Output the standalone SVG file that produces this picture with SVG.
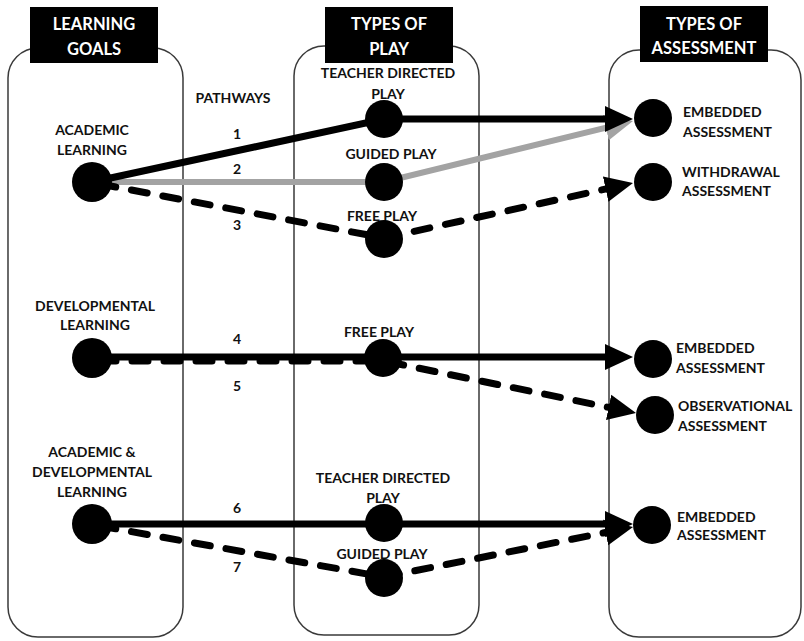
<svg xmlns="http://www.w3.org/2000/svg" width="804" height="641" viewBox="0 0 804 641">
  <style>
    .panel { fill: #ffffff; stroke: #3a3a3a; stroke-width: 1.5; }
    .hdr { fill: #000000; }
    .hdr-t { fill: #ffffff; font-family: Lato, "Liberation Sans", sans-serif; font-weight: bold; font-size: 16.5px; text-anchor: middle; }
    .lbl { fill: #111111; font-family: Lato, "Liberation Sans", sans-serif; font-weight: bold; font-size: 14px; }
    .mid { text-anchor: middle; }
    .node { fill: #000000; }
    .solid { fill: none; stroke: #000000; stroke-width: 7; }
    .dash { fill: none; stroke: #000000; stroke-width: 7; stroke-dasharray: 16 16; stroke-linecap: round; }
    .grey { fill: none; stroke: #a3a3a3; stroke-width: 6; }
  </style>
  <defs>
    <marker id="ah" markerUnits="userSpaceOnUse" markerWidth="28" markerHeight="28" viewBox="0 0 28 28" refX="10" refY="14" orient="auto">
      <path d="M0,1 L28,14 L0,27 z" fill="#000000"/>
    </marker>
    <marker id="ahg" markerUnits="userSpaceOnUse" markerWidth="28" markerHeight="28" viewBox="0 0 28 28" refX="10" refY="14" orient="auto">
      <path d="M0,1 L28,14 L0,27 z" fill="#a3a3a3"/>
    </marker>
  </defs>

  <rect width="804" height="641" fill="#ffffff"/>

  <!-- column panels -->
  <g id="col-goals">
    <rect class="panel" x="8" y="48" width="175" height="589" rx="30"/>
    <rect class="hdr" x="30" y="7" width="128" height="56"/>
    <text class="hdr-t" x="94" y="30">LEARNING</text>
    <text class="hdr-t" x="94" y="55">GOALS</text>
  </g>
  <g id="col-play">
    <rect class="panel" x="294" y="46" width="185" height="589" rx="30"/>
    <rect class="hdr" x="325" y="7" width="128" height="56"/>
    <text class="hdr-t" x="389" y="30">TYPES OF</text>
    <text class="hdr-t" x="389" y="55">PLAY</text>
  </g>
  <g id="col-assessment">
    <rect class="panel" x="609" y="50" width="192" height="587" rx="30"/>
    <rect class="hdr" x="640" y="6" width="128" height="56"/>
    <text class="hdr-t" x="704" y="30">TYPES OF</text>
    <text class="hdr-t" x="704" y="54">ASSESSMENT</text>
  </g>

  <text class="lbl mid" x="233" y="103">PATHWAYS</text>

  <!-- pathways -->
  <g id="connectors">
    <!-- 2: guided play -->
    <path class="grey" d="M92,182 L384,182 L615.5,125.3" marker-end="url(#ahg)"/>
    <!-- 1: teacher directed play -->
    <path class="solid" d="M92,182 L384,119 L615,119" marker-end="url(#ah)"/>
    <!-- 3: free play -->
    <path class="dash" d="M100,184 L384,238 L615.4,186.9" marker-end="url(#ah)"/>
    <!-- 5: free play to observational -->
    <path class="dash" d="M100,361 L384,361 L618.4,409.4" marker-end="url(#ah)"/>
    <!-- 4: free play to embedded -->
    <path class="solid" d="M92,357 L615,357" marker-end="url(#ah)"/>
    <!-- 7: guided play -->
    <path class="dash" d="M100,526 L384,577 L615.4,530.5" marker-end="url(#ah)"/>
    <!-- 6: teacher directed play -->
    <path class="solid" d="M92,524 L615,524" marker-end="url(#ah)"/>
  </g>

  <!-- pathway numbers -->
  <text class="lbl mid" x="237" y="139">1</text>
  <text class="lbl mid" x="237" y="174">2</text>
  <text class="lbl mid" x="237" y="230">3</text>
  <text class="lbl mid" x="237" y="344">4</text>
  <text class="lbl mid" x="237" y="391">5</text>
  <text class="lbl mid" x="237" y="513">6</text>
  <text class="lbl mid" x="237" y="572">7</text>

  <!-- learning goals -->
  <g id="goal-academic">
    <text class="lbl mid" x="92" y="135">ACADEMIC</text>
    <text class="lbl mid" x="92" y="155">LEARNING</text>
    <circle class="node" cx="92" cy="182" r="20"/>
  </g>
  <g id="goal-developmental">
    <text class="lbl mid" x="95" y="311">DEVELOPMENTAL</text>
    <text class="lbl mid" x="95" y="330">LEARNING</text>
    <circle class="node" cx="92" cy="358" r="20"/>
  </g>
  <g id="goal-both">
    <text class="lbl mid" x="92" y="457">ACADEMIC &amp;</text>
    <text class="lbl mid" x="92" y="477">DEVELOPMENTAL</text>
    <text class="lbl mid" x="92" y="497">LEARNING</text>
    <circle class="node" cx="92" cy="524" r="20"/>
  </g>

  <!-- types of play -->
  <g id="play-teacher-1">
    <text class="lbl mid" x="388" y="78">TEACHER DIRECTED</text>
    <text class="lbl mid" x="388" y="99">PLAY</text>
    <circle class="node" cx="384" cy="119" r="19"/>
  </g>
  <g id="play-guided-1">
    <text class="lbl mid" x="391" y="159">GUIDED PLAY</text>
    <circle class="node" cx="384" cy="182" r="19"/>
  </g>
  <g id="play-free-1">
    <text class="lbl mid" x="382" y="221">FREE PLAY</text>
    <circle class="node" cx="384" cy="239" r="19"/>
  </g>
  <g id="play-free-2">
    <text class="lbl mid" x="379" y="337">FREE PLAY</text>
    <circle class="node" cx="383" cy="358" r="19"/>
  </g>
  <g id="play-teacher-2">
    <text class="lbl mid" x="383" y="483">TEACHER DIRECTED</text>
    <text class="lbl mid" x="383" y="503">PLAY</text>
    <circle class="node" cx="384" cy="523" r="19"/>
  </g>
  <g id="play-guided-2">
    <text class="lbl mid" x="382" y="559">GUIDED PLAY</text>
    <circle class="node" cx="384" cy="578" r="19"/>
  </g>

  <!-- types of assessment -->
  <g id="assess-embedded-1">
    <circle class="node" cx="653" cy="118" r="19"/>
    <text class="lbl" x="683" y="117">EMBEDDED</text>
    <text class="lbl" x="683" y="137">ASSESSMENT</text>
  </g>
  <g id="assess-withdrawal">
    <circle class="node" cx="653" cy="182" r="19"/>
    <text class="lbl" x="682" y="177">WITHDRAWAL</text>
    <text class="lbl" x="682" y="196">ASSESSMENT</text>
  </g>
  <g id="assess-embedded-2">
    <circle class="node" cx="653" cy="359" r="19"/>
    <text class="lbl" x="676" y="353">EMBEDDED</text>
    <text class="lbl" x="676" y="373">ASSESSMENT</text>
  </g>
  <g id="assess-observational">
    <circle class="node" cx="655" cy="415" r="19"/>
    <text class="lbl" x="678" y="411">OBSERVATIONAL</text>
    <text class="lbl" x="678" y="431">ASSESSMENT</text>
  </g>
  <g id="assess-embedded-3">
    <circle class="node" cx="652" cy="525" r="19"/>
    <text class="lbl" x="677" y="522">EMBEDDED</text>
    <text class="lbl" x="677" y="540">ASSESSMENT</text>
  </g>
</svg>
